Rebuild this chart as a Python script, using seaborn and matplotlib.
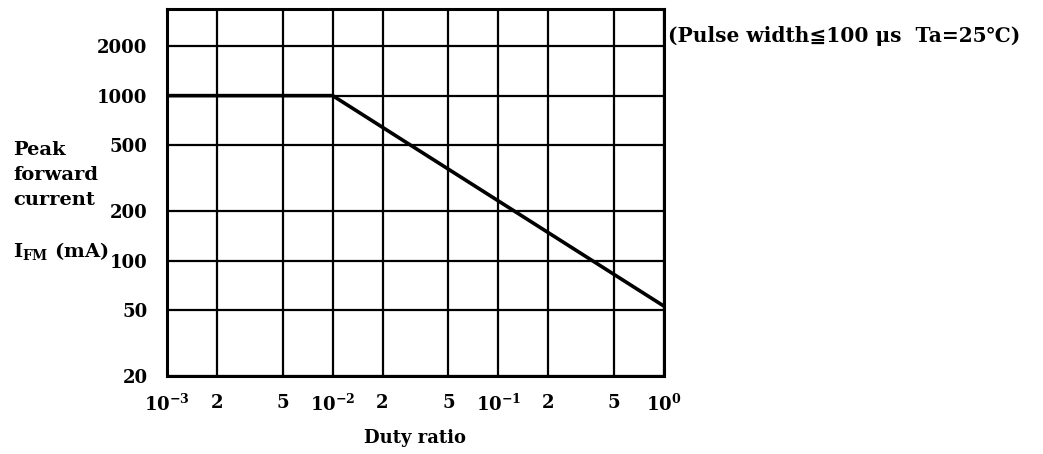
import matplotlib
matplotlib.use("Agg")
import matplotlib.pyplot as plt
import seaborn as sns

# data (log-log)
duty_ratio = [1e-3, 1e-2, 1.0]
peak_current = [1000, 1000, 53]

x_ticks = [1e-3, 2e-3, 5e-3, 1e-2, 2e-2, 5e-2, 1e-1, 2e-1, 5e-1, 1.0]
x_labels = [r"$\mathbf{10^{-3}}$", "2", "5", r"$\mathbf{10^{-2}}$", "2", "5",
            r"$\mathbf{10^{-1}}$", "2", "5", r"$\mathbf{10^{0}}$"]
y_ticks = [20, 50, 100, 200, 500, 1000, 2000]
y_labels = ["20", "50", "100", "200", "500", "1000", "2000"]

sns.set_style("white")
plt.rcParams["font.family"] = ["DejaVu Serif", "DejaVu Sans"]
plt.rcParams["font.weight"] = "bold"
plt.rcParams["mathtext.fontset"] = "dejavuserif"
for k in ["text.color", "axes.labelcolor", "xtick.color", "ytick.color"]:
    plt.rcParams[k] = "black"

fig = plt.figure(figsize=(10.43, 4.54), dpi=100)
ax = fig.add_axes([0.1601, 0.1718, 0.4765, 0.8084])

sns.lineplot(x=duty_ratio, y=peak_current, color="black", linewidth=2.6, ax=ax)

ax.set_xscale("log")
ax.set_yscale("log")
ax.set_xlim(1e-3, 1.0)
ax.set_ylim(20, 3350)
ax.set_xticks(x_ticks)
ax.set_xticklabels(x_labels, fontsize=13, fontweight="bold")
ax.set_yticks(y_ticks)
ax.set_yticklabels(y_labels, fontsize=13, fontweight="bold")
ax.tick_params(which="both", length=0)
ax.tick_params(axis="x", pad=13)
ax.tick_params(axis="y", pad=14)
ax.grid(True, which="major", color="black", linewidth=1.6)
for s in ax.spines.values():
    s.set_color("black")
    s.set_linewidth(2.2)

ax.set_xlabel("Duty ratio", fontsize=13, fontweight="bold", labelpad=10)

fig.text(0.0125, 0.6586, "Peak", fontsize=14, fontweight="bold", va="baseline")
fig.text(0.0125, 0.6035, "forward", fontsize=14, fontweight="bold", va="baseline")
fig.text(0.0125, 0.5485, "current", fontsize=14, fontweight="bold", va="baseline")
fig.text(0.0125, 0.4339, r"$\mathbf{I_{FM}}$ (mA)", fontsize=14, fontweight="bold", va="baseline")

fig.text(0.6405, 0.9075, "(Pulse width≦100 μs  Ta=25℃)", fontsize=14.5,
         fontweight="bold", va="baseline")

fig.savefig("out.png", dpi=100)
